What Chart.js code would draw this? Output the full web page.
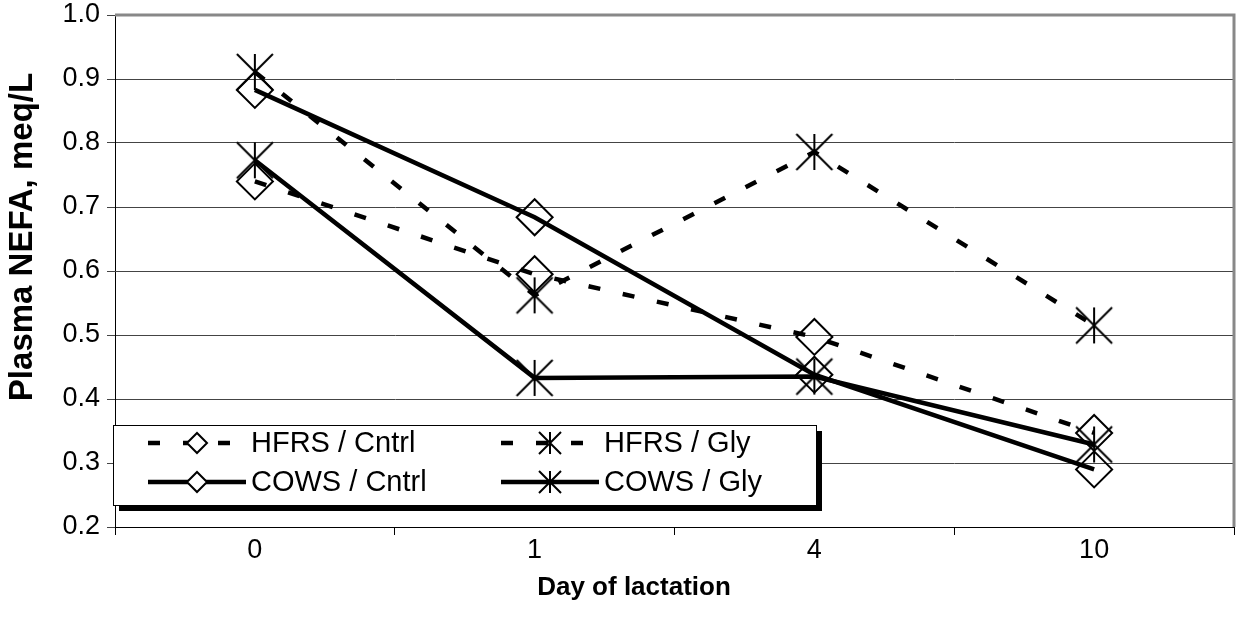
<!DOCTYPE html>
<html>
<head>
<meta charset="utf-8">
<script src="https://cdn.jsdelivr.net/npm/chart.js@4.4.0/dist/chart.umd.min.js"></script>
<style>
  html, body { margin: 0; padding: 0; background: #fff; }
  #wrap { width: 1238px; height: 634px; }
</style>
</head>
<body>
<div id="wrap"><canvas id="grafico" width="1238" height="634"></canvas></div>
<script>
// Datos (NEFA plasmatico, meq/L)
const dias = ['0', '1', '4', '10'];
const hfrsCntrl = [0.740, 0.595, 0.497, 0.347];
const hfrsGly = [0.911, 0.562, 0.786, 0.515];
const cowsCntrl = [0.883, 0.684, 0.438, 0.290];
const cowsGly = [0.773, 0.433, 0.435, 0.329];
const etiquetas = ['HFRS / Cntrl', 'HFRS / Gly', 'COWS / Cntrl', 'COWS / Gly'];

const fuente = '"Liberation Sans", Arial, sans-serif';
const guion = [12, 23];

// asterisco estilo Excel: X + linea vertical
function crearAsterisco(h, lw) {
  const s = Math.ceil(h * 2 + lw * 2);
  const c = document.createElement('canvas');
  c.width = s; c.height = s;
  const ctx = c.getContext('2d');
  const m = s / 2;
  ctx.strokeStyle = '#000';
  ctx.lineWidth = lw;
  ctx.beginPath();
  ctx.moveTo(m - h, m - h); ctx.lineTo(m + h, m + h);
  ctx.moveTo(m + h, m - h); ctx.lineTo(m - h, m + h);
  ctx.moveTo(m, m - h); ctx.lineTo(m, m + h);
  ctx.stroke();
  return c;
}
const asterisco = crearAsterisco(18, 2);
const asteriscoLeyenda = crearAsterisco(11, 2);

function serie(label, data, dash, estilo) {
  return {
    label: label,
    data: data,
    borderColor: '#000',
    borderWidth: 4.5,
    borderDash: dash,
    tension: 0,
    pointStyle: estilo,
    pointRadius: 18,
    pointBorderWidth: 2,
    pointBorderColor: '#000',
    pointBackgroundColor: 'rgba(0,0,0,0)'
  };
}

// borde gris del area de trazado
const bordeArea = {
  id: 'bordeArea',
  beforeDatasetsDraw(chart) {
    const a = chart.chartArea, ctx = chart.ctx;
    ctx.save();
    ctx.strokeStyle = '#888';
    ctx.lineWidth = 3;
    ctx.beginPath();
    ctx.moveTo(a.left, a.top);
    ctx.lineTo(a.right, a.top);
    ctx.lineTo(a.right, a.bottom);
    ctx.stroke();
    ctx.restore();
  }
};

// titulos de ejes
const titulos = {
  id: 'titulos',
  afterDraw(chart) {
    const ctx = chart.ctx;
    ctx.save();
    ctx.fillStyle = '#000';
    ctx.textAlign = 'center';
    ctx.textBaseline = 'middle';
    ctx.font = 'bold 26px ' + fuente;
    ctx.fillText('Day of lactation', 634, 588);
    ctx.font = 'bold 33px ' + fuente;
    ctx.translate(23, 237);
    ctx.rotate(-Math.PI / 2);
    ctx.fillText('Plasma NEFA, meq/L', 0, 0);
    ctx.restore();
  }
};

// leyenda con sombra, dentro del area de trazado
const leyenda = {
  id: 'leyenda',
  afterDraw(chart) {
    const ctx = chart.ctx;
    const caja = { x: 113, y: 425, w: 703, h: 80 };
    ctx.save();
    ctx.fillStyle = '#000';
    ctx.fillRect(caja.x + 6, caja.y + 6, caja.w, caja.h);
    ctx.fillStyle = '#fff';
    ctx.fillRect(caja.x, caja.y, caja.w, caja.h);
    ctx.strokeStyle = '#000';
    ctx.lineWidth = 1;
    ctx.strokeRect(caja.x + 0.5, caja.y + 0.5, caja.w, caja.h);

    const cols = [148, 501];
    const filas = [443, 482];
    chart.data.datasets.forEach((ds, i) => {
      const x0 = cols[i % 2];
      const y = filas[Math.floor(i / 2)];
      ctx.strokeStyle = '#000';
      ctx.lineWidth = ds.borderWidth;
      ctx.setLineDash(ds.borderDash || []);
      ctx.beginPath();
      ctx.moveTo(x0, y);
      ctx.lineTo(x0 + 98, y);
      ctx.stroke();
      ctx.setLineDash([]);
      const cx = x0 + 49;
      if (ds.pointStyle === 'rectRot') {
        ctx.fillStyle = '#fff';
        ctx.lineWidth = 2;
        ctx.beginPath();
        ctx.moveTo(cx - 10, y); ctx.lineTo(cx, y - 10);
        ctx.lineTo(cx + 10, y); ctx.lineTo(cx, y + 10);
        ctx.closePath();
        ctx.fill();
        ctx.stroke();
      } else {
        ctx.drawImage(asteriscoLeyenda, cx - asteriscoLeyenda.width / 2, y - asteriscoLeyenda.height / 2);
      }
      ctx.fillStyle = '#000';
      ctx.font = '29px ' + fuente;
      ctx.textAlign = 'left';
      ctx.textBaseline = 'middle';
      ctx.fillText(ds.label, x0 + 103, y + 1);
    });
    ctx.restore();
  }
};

new Chart(document.getElementById('grafico'), {
  type: 'line',
  data: {
    labels: dias,
    datasets: [
      serie(etiquetas[0], hfrsCntrl, guion, 'rectRot'),
      serie(etiquetas[1], hfrsGly, guion, asterisco),
      serie(etiquetas[2], cowsCntrl, [], 'rectRot'),
      serie(etiquetas[3], cowsGly, [], asterisco)
    ]
  },
  options: {
    responsive: false,
    animation: false,
    layout: { autoPadding: false, padding: { top: 15, right: 4, left: 0, bottom: 0 } },
    plugins: {
      legend: { display: false },
      tooltip: { enabled: false }
    },
    scales: {
      x: {
        offset: true,
        grid: { offset: true, drawOnChartArea: false, drawTicks: true, tickLength: 8, color: '#000' },
        border: { color: '#000', width: 1 },
        ticks: { color: '#000', font: { family: fuente, size: 27, lineHeight: 1 }, padding: 2, maxRotation: 0 },
        afterFit(scale) {
          scale.height = 107;
          scale.paddingLeft = 0;
          scale.paddingRight = 0;
        }
      },
      y: {
        min: 0.2,
        max: 1.0,
        grid: { color: '#444', tickLength: 8 },
        border: { color: '#000', width: 1 },
        ticks: {
          stepSize: 0.1,
          color: '#000',
          padding: 7,
          font: { family: fuente, size: 27, lineHeight: 1 },
          callback: v => v.toFixed(1)
        },
        afterFit(scale) {
          scale.width = 115;
          scale.paddingTop = 0;
          scale.paddingBottom = 0;
        }
      }
    }
  },
  plugins: [bordeArea, titulos, leyenda]
});
</script>
</body>
</html>
